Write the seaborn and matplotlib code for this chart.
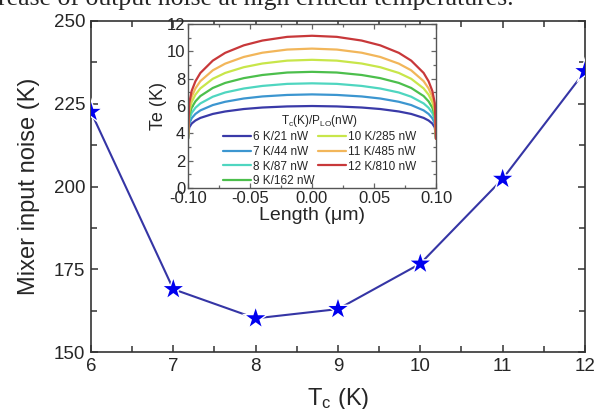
import matplotlib
matplotlib.use("Agg")
import pandas as pd
import matplotlib.pyplot as plt
import seaborn as sns
from matplotlib.ticker import MultipleLocator

sns.set_style("ticks")
plt.rcParams['font.family'] = ['Liberation Sans', 'DejaVu Sans']
plt.rcParams['mathtext.default'] = 'regular'
plt.rcParams['axes.unicode_minus'] = False

# main curve: mixer input noise vs critical temperature
tc = [6, 7, 8, 9, 10, 11, 12]
noise = [222.5, 169.0, 160.2, 163.0, 176.7, 202.3, 234.8]

# inset: electron temperature along the bridge, one curve per Tc / LO power
length = [-0.1, -0.099, -0.097, -0.094, -0.09, -0.08, -0.07, -0.055, -0.04, -0.02, 0.0,
          0.02, 0.04, 0.055, 0.07, 0.08, 0.09, 0.094, 0.097, 0.099, 0.1]
te_6 = [3.6, 4.43, 4.72, 4.94, 5.13, 5.42, 5.60, 5.78, 5.89, 5.97, 6.00,
        5.97, 5.89, 5.78, 5.60, 5.42, 5.13, 4.94, 4.72, 4.43, 3.6]
te_7 = [3.6, 4.73, 5.11, 5.42, 5.68, 6.07, 6.31, 6.55, 6.70, 6.81, 6.85,
        6.81, 6.70, 6.55, 6.31, 6.07, 5.68, 5.42, 5.11, 4.73, 3.6]
te_8 = [3.6, 5.01, 5.49, 5.87, 6.19, 6.68, 6.99, 7.28, 7.47, 7.62, 7.66,
        7.62, 7.47, 7.28, 6.99, 6.68, 6.19, 5.87, 5.49, 5.01, 3.6]
te_9 = [3.6, 5.30, 5.88, 6.34, 6.73, 7.32, 7.69, 8.04, 8.27, 8.45, 8.50,
        8.45, 8.27, 8.04, 7.69, 7.32, 6.73, 6.34, 5.88, 5.30, 3.6]
te_10 = [3.6, 5.61, 6.29, 6.83, 7.29, 7.99, 8.42, 8.84, 9.11, 9.32, 9.38,
         9.32, 9.11, 8.84, 8.42, 7.99, 7.29, 6.83, 6.29, 5.61, 3.6]
te_11 = [3.6, 5.89, 6.68, 7.29, 7.82, 8.61, 9.10, 9.59, 9.90, 10.13, 10.20,
         10.13, 9.90, 9.59, 9.10, 8.61, 7.82, 7.29, 6.68, 5.89, 3.6]
te_12 = [3.6, 6.22, 7.11, 7.81, 8.42, 9.32, 9.89, 10.44, 10.79, 11.06, 11.14,
         11.06, 10.79, 10.44, 9.89, 9.32, 8.42, 7.81, 7.11, 6.22, 3.6]
curve_labels = ['6 K/21 nW', '7 K/44 nW', '8 K/87 nW', '9 K/162 nW',
                '10 K/285 nW', '11 K/485 nW', '12 K/810 nW']
curve_colors = ['#3a3aa8', '#3c96d0', '#4fd6c0', '#4cbf4c',
                '#c8e64a', '#f2b65a', '#c8383a']

rows = []
for lab, vals in zip(curve_labels, [te_6, te_7, te_8, te_9, te_10, te_11, te_12]):
    for x, t in zip(length, vals):
        rows.append((lab, x, t))
inset_df = pd.DataFrame(rows, columns=['curve', 'length', 'te'])

spine_col = '#333333'

fig = plt.figure(figsize=(6.05, 4.09), dpi=100)
ax = fig.add_axes([0.1504, 0.139, 0.8165, 0.810])

sns.lineplot(x=tc, y=noise, color='#3535a5', lw=1.5, ax=ax)
sns.scatterplot(x=tc, y=noise, marker='*', s=440, color='white', edgecolor='none', ax=ax, zorder=3)
sns.scatterplot(x=tc, y=noise, marker='*', s=210, color='#0000ee', edgecolor='none', ax=ax, zorder=4)

ax.set_xlim(6, 12)
ax.set_ylim(150, 250)
ax.xaxis.set_major_locator(MultipleLocator(1))
ax.xaxis.set_minor_locator(MultipleLocator(0.5))
ax.yaxis.set_major_locator(MultipleLocator(25))
ax.yaxis.set_minor_locator(MultipleLocator(12.5))
ax.tick_params(which='both', direction='in', top=True, right=True,
               labelsize=13.5, color=spine_col, width=1.1, pad=4)
ax.tick_params(which='major', length=5)
ax.tick_params(which='minor', length=4)
for s in ax.spines.values():
    s.set_color(spine_col)
    s.set_linewidth(1.2)
ax.set_xlabel('T$_c$ (K)', fontsize=17, labelpad=8)
ax.set_ylabel('Mixer input noise (K)', fontsize=17, labelpad=10)

# inset
ins = fig.add_axes([0.3107, 0.5403, 0.410, 0.401])
sns.lineplot(data=inset_df, x='length', y='te', hue='curve', palette=curve_colors,
             hue_order=curve_labels, sort=False, estimator=None, lw=1.6, ax=ins, legend=False)
ins.set_xlim(-0.1, 0.1)
ins.set_ylim(0, 12)
ins.xaxis.set_major_locator(MultipleLocator(0.05))
ins.xaxis.set_minor_locator(MultipleLocator(0.025))
ins.yaxis.set_major_locator(MultipleLocator(2))
ins.yaxis.set_minor_locator(MultipleLocator(1))
ins.xaxis.set_major_formatter(plt.FormatStrFormatter('%.2f'))
ins.tick_params(which='both', direction='in', top=True, right=True,
                labelsize=12, color='#666666', width=0.9, pad=2)
ins.tick_params(which='major', length=3.5)
ins.tick_params(which='minor', length=2.5)
for s in ins.spines.values():
    s.set_color('#555555')
    s.set_linewidth(1.0)
ins.set_xlabel('Length (μm)', fontsize=14, labelpad=1)
ins.set_ylabel('Te (K)', fontsize=13, labelpad=0)

leg = ins.legend(ins.lines[:7], curve_labels, title='T$_c$(K)/P$_{LO}$(nW)', ncol=2,
                 loc='lower center', bbox_to_anchor=(0.53, -0.045), frameon=False,
                 fontsize=8.5, title_fontsize=8.5, handlelength=2.4, handletextpad=0.15,
                 columnspacing=0.3, labelspacing=0.22, borderpad=0.2)

fig.text(-0.004, 1 - 5 / 409, 'rease of output noise at high critical temperatures.',
         family=['Liberation Serif', 'DejaVu Serif'], fontsize=18.5, va='baseline', ha='left')

fig.savefig('out.png', dpi=100)
